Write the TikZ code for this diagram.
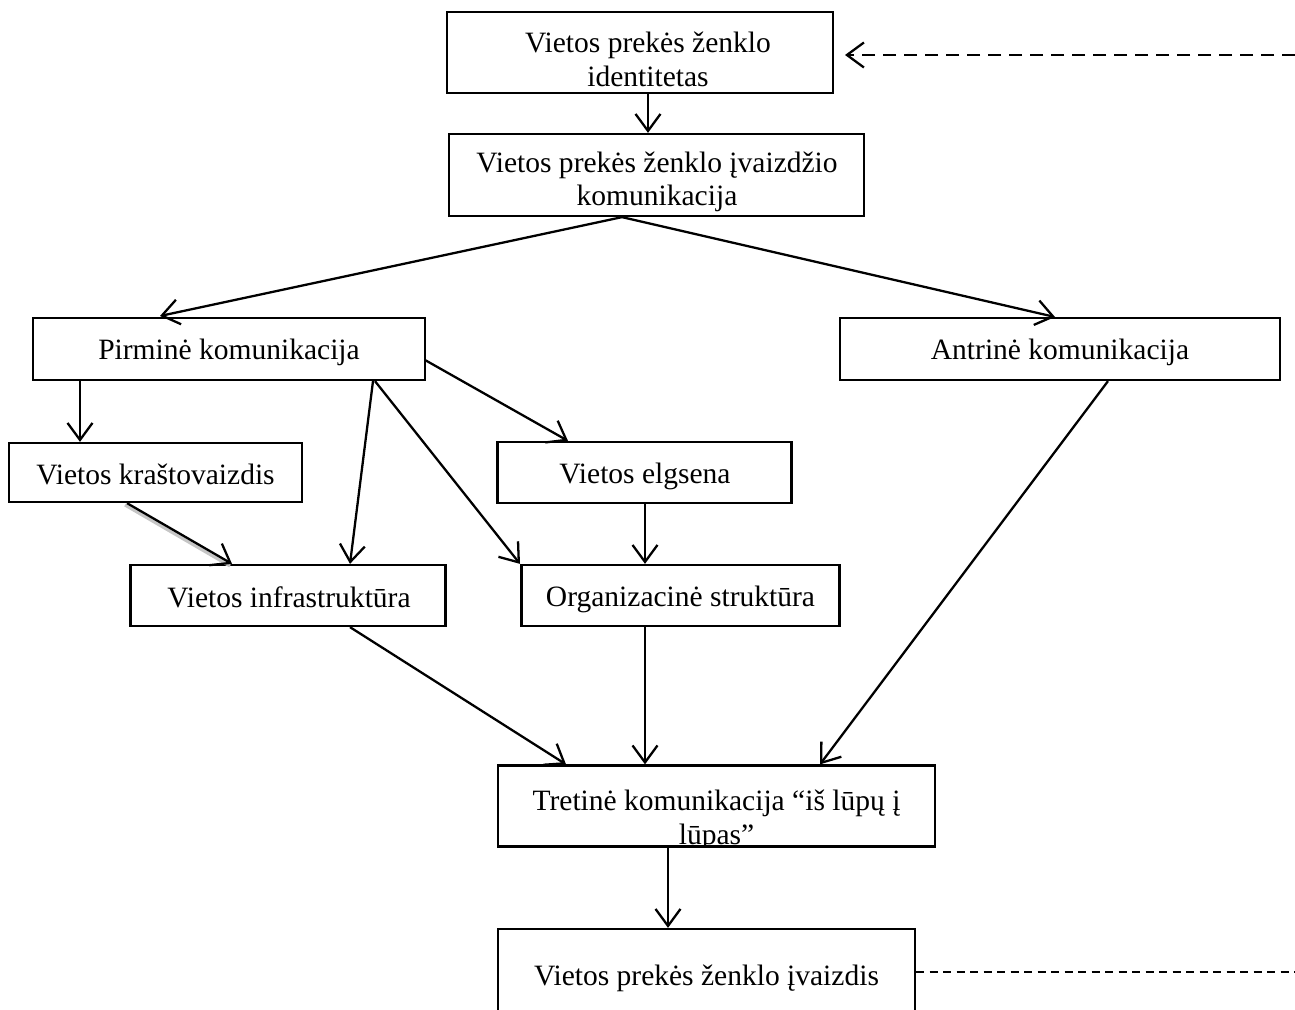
\documentclass[tikz,border=0pt]{standalone}
\usepackage{fontspec}
\setmainfont{Liberation Serif}
\usetikzlibrary{arrows.meta}
\begin{document}
\begin{tikzpicture}[x=0.02cm,y=-0.02cm,
  box/.style={draw, line width=1.3pt, inner sep=0pt},
  txt/.style={inner sep=0pt, align=center, font=\fontsize{16.8}{19.2}\selectfont},
  tip/.style={-{Straight Barb[length=0.34cm,width=0.5cm,line width=1.3pt]}},
  arr/.style={line width=1.3pt, tip},
  shadowline/.style={line width=1.8pt, gray!45},
  dsh/.style={line width=1.3pt, dash pattern=on 0.26cm off 0.16cm},
  dshfine/.style={line width=1.1pt, dash pattern=on 0.16cm off 0.11cm}]
\useasboundingbox (0,0) rectangle (1295,1010);

% boxes
\node[box, minimum width=7.72cm, minimum height=1.62cm] (id) at (640,52.5) {};
\node[box, minimum width=8.3cm, minimum height=1.64cm] (kom) at (656.5,175) {};
\node[box, minimum width=7.84cm, minimum height=1.24cm] (pir) at (229,349) {};
\node[box, minimum width=8.8cm, minimum height=1.24cm] (ant) at (1060,349) {};
\node[box, minimum width=5.86cm, minimum height=1.18cm] (kra) at (155.5,472.5) {};
\node[box, minimum width=5.88cm, minimum height=1.22cm] (elg) at (644.5,472.5) {};
\node[box, minimum width=6.3cm, minimum height=1.22cm] (inf) at (288,595.5) {};
\node[box, minimum width=6.36cm, minimum height=1.22cm] (org) at (680.5,595.5) {};
\node[box, minimum width=8.74cm, minimum height=1.62cm] (tre) at (716.5,806) {};
\node[box, minimum width=8.34cm, minimum height=1.84cm] (img) at (706.5,975) {};

% texts
\node[txt] (idt) at (648,59.5) {Vietos prekės ženklo\\identitetas};
\node[txt] (komt) at (657,182) {Vietos prekės ženklo įvaizdžio\\komunikacija};
\node[txt] (pirt) at (229,352) {Pirminė komunikacija};
\node[txt] (antt) at (1060,352) {Antrinė komunikacija};
\node[txt] (krat) at (155.5,474) {Vietos kraštovaizdis};
\node[txt] (elgt) at (645,476.5) {Vietos elgsena};
\node[txt] (inft) at (289,597) {Vietos infrastruktūra};
\node[txt] (orgt) at (680.5,599.5) {Organizacinė struktūra};
\begin{scope}
  \clip (tre.south west) rectangle (tre.north east);
  \node[txt] (tret) at (716.5,820) {Tretinė komunikacija “iš lūpų į\\lūpas”};
\end{scope}
\node[txt] (imgt) at (706.5,978) {Vietos prekės ženklo įvaizdis};

\coordinate (dtop) at (1295,55);
\coordinate (dbot) at (1295,972);

% connectors
\draw[arr] (648,0 |- id.south) -- (648,0 |- kom.north);
\draw[arr] (622,0 |- kom.south) -- (160,316);
\draw[arr] (622,0 |- kom.south) -- (1055,317);
\draw[arr] (80,0 |- pir.south) -- (80,0 |- kra.north);
\draw[arr] (373,0 |- pir.south) -- (350,0 |- inf.north);
\draw[arr] (375,0 |- pir.south) -- (520,0 |- org.north);
\draw[arr] (425,360) -- (568,0 |- elg.north);
\draw[arr] (645,0 |- elg.south) -- (645,0 |- org.north);
\draw[shadowline] (125,505) -- (230,566);
\draw[arr] (127,0 |- kra.south) -- (232,0 |- inf.north);
\draw[arr] (350,0 |- inf.south) -- (566,0 |- tre.north);
\draw[arr] (645,0 |- org.south) -- (645,0 |- tre.north);
\draw[arr] (1108,0 |- ant.south) -- (820,0 |- tre.north);
\draw[arr] (668,0 |- tre.south) -- (668,0 |- img.north);

\draw[dsh, tip] (dtop) -- (845,55);
\draw[dshfine] (img.east |- dbot) -- (dbot);
\end{tikzpicture}
\end{document}
